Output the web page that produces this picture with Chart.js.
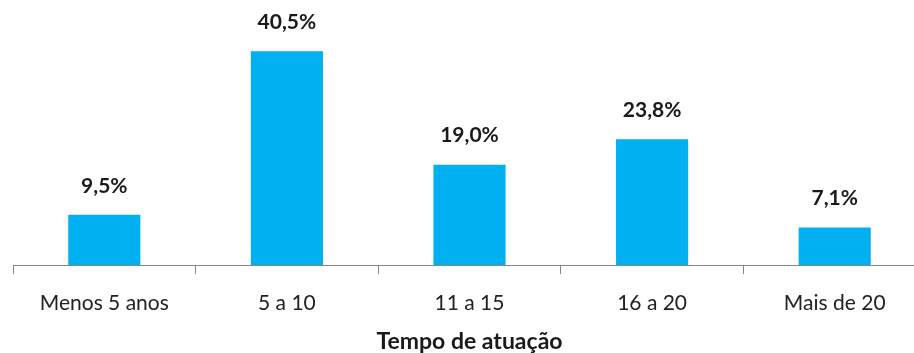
<!DOCTYPE html>
<html>
<head>
<meta charset="utf-8">
<script src="https://cdn.jsdelivr.net/npm/chart.js@4"></script>
<style>
    html, body { margin: 0; padding: 0; background: #fff; overflow: hidden; }
    #wrap { width: 930px; height: 353px; }
</style>
</head>
<body>
<div id="wrap"><canvas id="chart"></canvas></div>
<script>
const categories = ['Menos 5 anos', '5 a 10', '11 a 15', '16 a 20', 'Mais de 20'];
const percentages = [9.5, 40.5, 19.0, 23.8, 7.1];
const axisTitle = 'Tempo de atuação';

const FONT = "Lato, 'Noto Sans', sans-serif";

// draws the "40,5%" labels above each bar
const valueLabels = {
    id: 'valueLabels',
    afterDatasetsDraw(chart) {
        const ctx = chart.ctx;
        const meta = chart.getDatasetMeta(0);
        ctx.save();
        ctx.font = 'bold 21px ' + FONT;
        ctx.fillStyle = '#1a1a1a';
        ctx.textAlign = 'center';
        ctx.textBaseline = 'middle';
        meta.data.forEach((bar, i) => {
            const txt = percentages[i].toFixed(1).replace('.', ',') + '%';
            ctx.fillText(txt, bar.x, bar.y - 29);
        });
        ctx.restore();
    }
};

new Chart(document.getElementById('chart'), {
    type: 'bar',
    data: {
        labels: categories,
        datasets: [{
            data: percentages,
            backgroundColor: '#00b0f0',
            barPercentage: 0.395,
            categoryPercentage: 1
        }]
    },
    options: {
        responsive: true,
        maintainAspectRatio: false,
        animation: false,
        layout: { padding: { left: 13, right: 4, top: 1, bottom: 0 } },
        plugins: { legend: { display: false }, tooltip: { enabled: false } },
        scales: {
            y: { display: false, min: 0, max: 50 },
            x: {
                afterFit: (scale) => { scale.height = 88; },
                border: { color: '#868686', width: 1 },
                grid: { offset: true, drawOnChartArea: false, drawTicks: true, tickLength: 9, color: '#868686' },
                ticks: { color: '#222', font: { family: FONT, size: 21 }, padding: 17 },
                title: {
                    display: true,
                    text: axisTitle,
                    color: '#1a1a1a',
                    font: { family: FONT, size: 23, weight: 'bold' },
                    padding: { top: 5, bottom: -2 }
                }
            }
        }
    },
    plugins: [valueLabels]
});
</script>
</body>
</html>
